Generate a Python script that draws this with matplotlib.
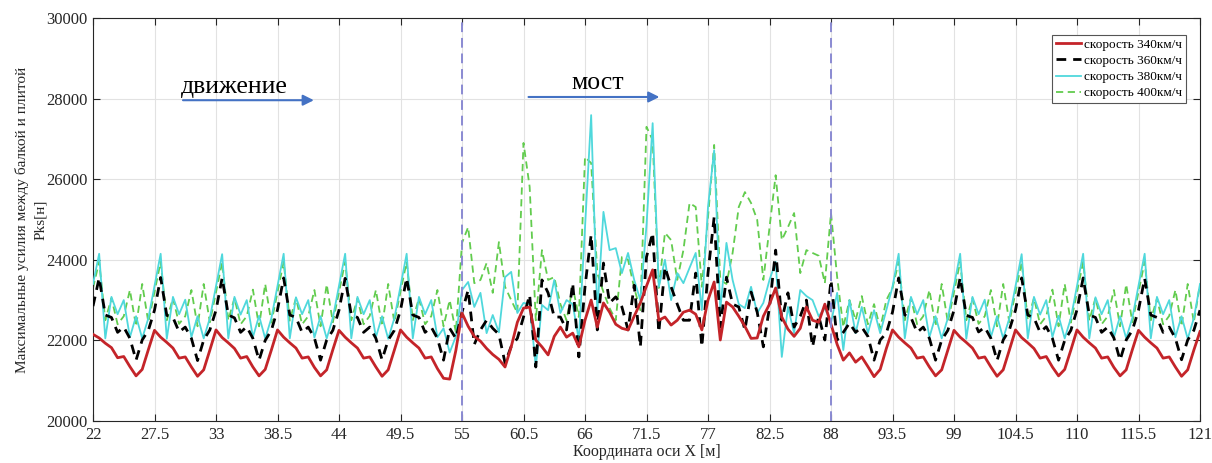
import numpy as np
import matplotlib.pyplot as plt

plt.rcParams['font.family'] = ['Liberation Serif', 'DejaVu Serif']

# measurement grid along the track, 0.55 m step
x = np.linspace(22, 121, 181)

# max beam/slab force, speed 340 km/h
p340 = [
    22150, 22060, 21930, 21820, 21570, 21600, 21350, 21120, 21280, 21770,
    22250, 22080, 21950, 21810, 21560, 21590, 21340, 21110, 21270, 21760,
    22260, 22070, 21940, 21800, 21560, 21600, 21340, 21120, 21280, 21760,
    22260, 22080, 21940, 21810, 21560, 21590, 21330, 21120, 21270, 21770,
    22250, 22080, 21940, 21810, 21560, 21590, 21340, 21110, 21270, 21760,
    22260, 22080, 21940, 21810, 21560, 21590, 21300, 21060, 21040, 21750,
    22680, 22350, 22100, 21980, 21800, 21650, 21530, 21340, 21840, 22450,
    22800, 22830, 22010, 21840, 21640, 22100, 22330, 22080, 22180, 21840,
    22500, 23000, 22330, 22930, 22700, 22400, 22300, 22260, 22600, 22930,
    23350, 23750, 22500, 22580, 22380, 22500, 22700, 22750, 22650, 22260,
    23000, 23450, 22010, 22950, 22830, 22600, 22350, 22050, 22060, 22600,
    22900, 23300, 22580, 22280, 22100, 22300, 22830, 22500, 22450, 22900,
    22400,
    21900, 21510, 21690, 21460, 21590, 21350, 21100, 21280, 21800,
    22260, 22080, 21940, 21810, 21560, 21590, 21340, 21120, 21270, 21760,
    22250, 22080, 21950, 21810, 21560, 21590, 21340, 21110, 21270, 21760,
    22260, 22070, 21940, 21800, 21560, 21600, 21340, 21120, 21280, 21760,
    22260, 22080, 21940, 21810, 21560, 21590, 21330, 21120, 21270, 21770,
    22250, 22080, 21940, 21810, 21560, 21590, 21340, 21110, 21270, 21760,
    22220,
]

# speed 360 km/h
p360 = [
    22850,
    23550, 22630, 22570, 22200, 22330, 22050, 21510, 22010, 22250, 22750,
    23560, 22620, 22570, 22210, 22330, 22050, 21500, 22010, 22260, 22750,
    23550, 22630, 22560, 22200, 22340, 22050, 21510, 22000, 22250, 22760,
    23550, 22630, 22570, 22200, 22330, 22060, 21510, 22010, 22250, 22750,
    23540, 22630, 22570, 22200, 22330, 22050, 21520, 22010, 22250, 22750,
    23550, 22630, 22570, 22200, 22330, 22050, 21510, 22300, 22050,
    22700, 23250, 21900, 22260, 22500, 22300, 22150, 21440, 21850, 22050,
    22580, 23130, 21340, 23500, 23180, 22580, 22580, 22260, 23420, 21590,
    23330, 24620, 22260, 23920, 22930, 23080, 22830, 22260, 23370, 21840,
    24070, 24670, 22200, 23820, 23330, 22900, 22500, 22500, 23670, 21840,
    23670, 25060, 22330, 23570, 22900, 22830, 22260, 23200, 22700, 21840,
    22830, 24240, 22500, 23180, 22330, 22600, 23000, 21840, 22600, 22010,
    23500,
    22010, 22200, 22430, 22200, 22330, 22100, 21510, 22010, 22180, 22700,
    23550, 22630, 22570, 22200, 22330, 22050, 21510, 22010, 22250, 22750,
    23560, 22620, 22570, 22210, 22330, 22050, 21500, 22010, 22260, 22750,
    23550, 22630, 22560, 22200, 22340, 22050, 21510, 22000, 22250, 22760,
    23550, 22630, 22570, 22200, 22330, 22060, 21510, 22010, 22250, 22750,
    23540, 22630, 22570, 22200, 22330, 22050, 21520, 22010, 22250, 22750,
]

# speed 380 km/h
p380 = [
    23400,
    24150, 22050, 23080, 22650, 23000, 22080, 22600, 22050, 22550, 23350,
    24150, 22040, 23080, 22650, 23010, 22080, 22600, 22050, 22550, 23350,
    24140, 22050, 23080, 22640, 23000, 22080, 22610, 22050, 22550, 23350,
    24150, 22050, 23070, 22650, 23000, 22070, 22600, 22050, 22560, 23350,
    24150, 22050, 23080, 22650, 23000, 22080, 22600, 22040, 22550, 23340,
    24150, 22050, 23080, 22650, 23000, 22080, 22300, 21700, 22100,
    23250, 23450, 22830, 23180, 22180, 22630, 22200, 23570, 23700, 22680,
    22930, 22900, 21340, 22880, 22750, 23500, 22680, 23000, 22900, 22010,
    24800, 27590, 22680, 25190, 24240, 24290, 23670, 24170, 23500, 23000,
    24860, 27390, 23330, 24000, 23000, 23670, 23420, 23800, 24170, 22750,
    25310, 26720, 22750, 24420, 23500, 22900, 22800, 23330, 22680, 22930,
    23500, 23950, 21590, 22830, 22180, 23250, 23100, 23000, 22600, 22800,
    22430,
    23180, 21760, 23000, 22180, 22830, 22180, 22750, 22180, 22750, 23330,
    24150, 22050, 23080, 22650, 23000, 22080, 22600, 22050, 22550, 23350,
    24150, 22040, 23080, 22650, 23010, 22080, 22600, 22050, 22550, 23350,
    24140, 22050, 23080, 22640, 23000, 22080, 22610, 22050, 22550, 23350,
    24150, 22050, 23070, 22650, 23000, 22070, 22600, 22050, 22560, 23350,
    24150, 22050, 23080, 22650, 23000, 22080, 22600, 22040, 22550, 23400,
]

# speed 400 km/h
p400 = [
    23300,
    23950, 22500, 23050, 22400, 22600, 23250, 22350, 23400, 22450, 23200,
    23950, 22500, 23050, 22410, 22600, 23250, 22350, 23400, 22450, 23200,
    23940, 22500, 23050, 22400, 22600, 23260, 22350, 23400, 22440, 23200,
    23950, 22490, 23050, 22400, 22600, 23250, 22350, 23390, 22450, 23200,
    23950, 22500, 23040, 22400, 22610, 23250, 22350, 23400, 22450, 23210,
    23950, 22500, 23050, 22400, 22600, 23250, 22350, 23000, 22200,
    24420, 24810, 23420, 23500, 23920, 23180, 24440, 23330, 23000, 22680,
    26900, 25810, 22500, 24240, 23500, 23570, 22900, 22500, 23330, 22580,
    26550, 26400, 23670, 23200, 22800, 22500, 24070, 24000, 23300, 22750,
    27300, 26970, 23300, 24670, 24490, 23500, 24240, 25410, 25310, 23330,
    25060, 26850, 23500, 23400, 24170, 25310, 25680, 25410, 24990, 23500,
    24810, 26100, 24490, 24810, 25160, 23670, 24240, 24170, 24100, 23420,
    25160,
    23570, 22330, 23000, 22500, 23100, 22400, 22900, 22300, 23000, 23300,
    23950, 22500, 23050, 22400, 22600, 23250, 22350, 23400, 22450, 23200,
    23950, 22500, 23050, 22410, 22600, 23250, 22350, 23400, 22450, 23200,
    23940, 22500, 23050, 22400, 22600, 23260, 22350, 23400, 22440, 23200,
    23950, 22490, 23050, 22400, 22600, 23250, 22350, 23390, 22450, 23200,
    23950, 22500, 23040, 22400, 22610, 23250, 22350, 23400, 22450, 23400,
]

xticks = [22, 27.5, 33, 38.5, 44, 49.5, 55, 60.5, 66, 71.5, 77, 82.5, 88,
          93.5, 99, 104.5, 110, 115.5, 121]
xtick_labels = ['22', '27.5', '33', '38.5', '44', '49.5', '55', '60.5', '66',
                '71.5', '77', '82.5', '88', '93.5', '99', '104.5', '110',
                '115.5', '121']
yticks = [20000, 22000, 24000, 26000, 28000, 30000]
bridge_ends = [55, 88]

fig = plt.figure(figsize=(12.12, 4.63), dpi=100)
ax = fig.add_axes([93 / 1212, 42 / 463, 1107 / 1212, 403 / 463])

ax.plot(x, p340, color='#c42429', lw=2.0, label='скорость 340км/ч', zorder=5)
ax.plot(x, p360, color='black', lw=2.0, ls=(0, (3.5, 2.5)), label='скорость 360км/ч', zorder=4)
ax.plot(x, p380, color='#4fd8dc', lw=1.3, label='скорость 380км/ч', zorder=3)
ax.plot(x, p400, color='#62cc4e', lw=1.3, ls=(0, (4, 2.5)), label='скорость 400км/ч', zorder=2)

for xb in bridge_ends:
    ax.axvline(xb, color='#8a8ad2', lw=1.4, ls=(0, (5, 3)), zorder=6)

# direction arrows
ax.annotate('', xy=(42.0, 27960), xytext=(29.8, 27960),
            arrowprops=dict(arrowstyle='-|>', color='#4472c4', lw=1.5, mutation_scale=16))
ax.text(29.9, 28010, 'движение', fontsize=18.5, ha='left', va='bottom')
ax.annotate('', xy=(72.9, 28040), xytext=(60.7, 28040),
            arrowprops=dict(arrowstyle='-|>', color='#4472c4', lw=1.5, mutation_scale=16))
ax.text(64.8, 28120, 'мост', fontsize=18.5, ha='left', va='bottom')

ax.set_xlim(22, 121)
ax.set_ylim(20000, 30000)
ax.set_xticks(xticks)
ax.set_xticklabels(xtick_labels)
ax.set_yticks(yticks)
ax.tick_params(direction='in', top=True, right=True, labelsize=12, length=5,
               width=0.8, colors='#262626', pad=4)
ax.grid(True, color='#e2e2e2', lw=0.8)
ax.set_axisbelow(True)
for s in ax.spines.values():
    s.set_color('#262626')
    s.set_linewidth(0.8)

ax.set_xlabel('Координата оси X [м]', fontsize=11.5, labelpad=1, color='#262626')
ax.set_ylabel('Максимальные усилия между балкой и плитой\nPks[н]', fontsize=11,
              labelpad=-1, color='#262626', linespacing=1.5)

leg = ax.legend(loc='upper right', bbox_to_anchor=(0.9935, 0.975), fontsize=9.5,
                handlelength=1.9, handletextpad=0.25, borderpad=0.3, labelspacing=0.3,
                fancybox=False, framealpha=1, edgecolor='#555555')
leg.get_frame().set_linewidth(0.8)

fig.savefig('out.png', dpi=100)
